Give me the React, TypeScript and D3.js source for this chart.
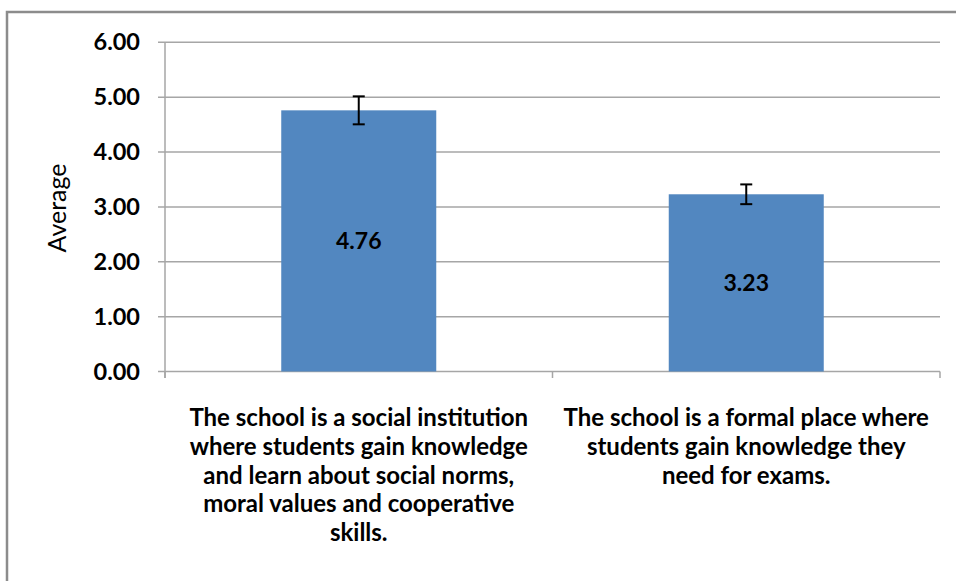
import React from "react";
import * as d3 from "d3";

const categories = [
  "The school is a social institution where students gain knowledge and learn about social norms, moral values and cooperative skills.",
  "The school is a formal place where students gain knowledge they need for exams.",
];
const categoryLines = [
  ["The school is a social institution", "where students gain knowledge", "and learn about social norms,", "moral values and cooperative", "skills."],
  ["The school is a formal place where", "students gain knowledge they", "need for exams."],
];
const values = [4.76, 3.23];
const errors = [0.255, 0.18];
const yTicks = [0, 1, 2, 3, 4, 5, 6];

const W = 956;
const H = 581;
const FONT = "Lato, 'Open Sans', sans-serif";

export default function App() {
  const x = d3.scaleBand<string>().domain(categories).range([165, 940]).paddingInner(0.6).paddingOuter(0.3);
  const y = d3.scaleLinear().domain([0, 6]).range([371.5, 42.3]);
  const gridColor = "#a6a6a6";
  return (
    <svg width={W} height={H} style={{ position: "absolute", left: 0, top: 0, background: "#fff" }}>
      <rect x={7} y={12} width={W + 20} height={H + 20} fill="#fff" stroke="#8c8c8c" strokeWidth={2.5} />
      {yTicks.map((t) => (
        <g key={t}>
          <line x1={158} x2={940} y1={y(t)} y2={y(t)} stroke={gridColor} strokeWidth={1.5} />
          <text x={140} y={y(t) + 8} textAnchor="end" fontFamily={FONT} fontWeight={700} fontSize={23.5} fill="#000">
            {t.toFixed(2)}
          </text>
        </g>
      ))}
      <line x1={165} x2={165} y1={y(6)} y2={378} stroke={gridColor} strokeWidth={1.5} />
      {[165, 165 + x.step(), 165 + 2 * x.step()].map((px, i) => (
        <line key={i} x1={px} x2={px} y1={y(0)} y2={378} stroke={gridColor} strokeWidth={1.5} />
      ))}
      {categories.map((c, i) => {
        const bx = x(c)!;
        const bw = x.bandwidth();
        const cx = bx + bw / 2;
        const v = values[i];
        const e = errors[i];
        return (
          <g key={c}>
            <rect x={bx} y={y(v)} width={bw} height={y(0) - y(v)} fill="#5287c0" />
            <line x1={cx} x2={cx} y1={y(v + e)} y2={y(v - e)} stroke="#000" strokeWidth={2} />
            <line x1={cx - 6} x2={cx + 6} y1={y(v + e)} y2={y(v + e)} stroke="#000" strokeWidth={2} />
            <line x1={cx - 6} x2={cx + 6} y1={y(v - e)} y2={y(v - e)} stroke="#000" strokeWidth={2} />
            <text x={cx} y={(y(v) + y(0)) / 2 + 8} textAnchor="middle" fontFamily={FONT} fontWeight={700} fontSize={23} fill="#000">
              {v.toFixed(2)}
            </text>
            {categoryLines[i].map((ln, j) => (
              <text key={j} x={cx} y={426 + j * 28.8} textAnchor="middle" fontFamily={FONT} fontWeight={700} fontSize={24} fill="#000">
                {ln}
              </text>
            ))}
          </g>
        );
      })}
      <text transform={`translate(66,208) rotate(-90)`} textAnchor="middle" fontFamily={FONT} fontSize={25} fill="#000">
        Average
      </text>
    </svg>
  );
}
